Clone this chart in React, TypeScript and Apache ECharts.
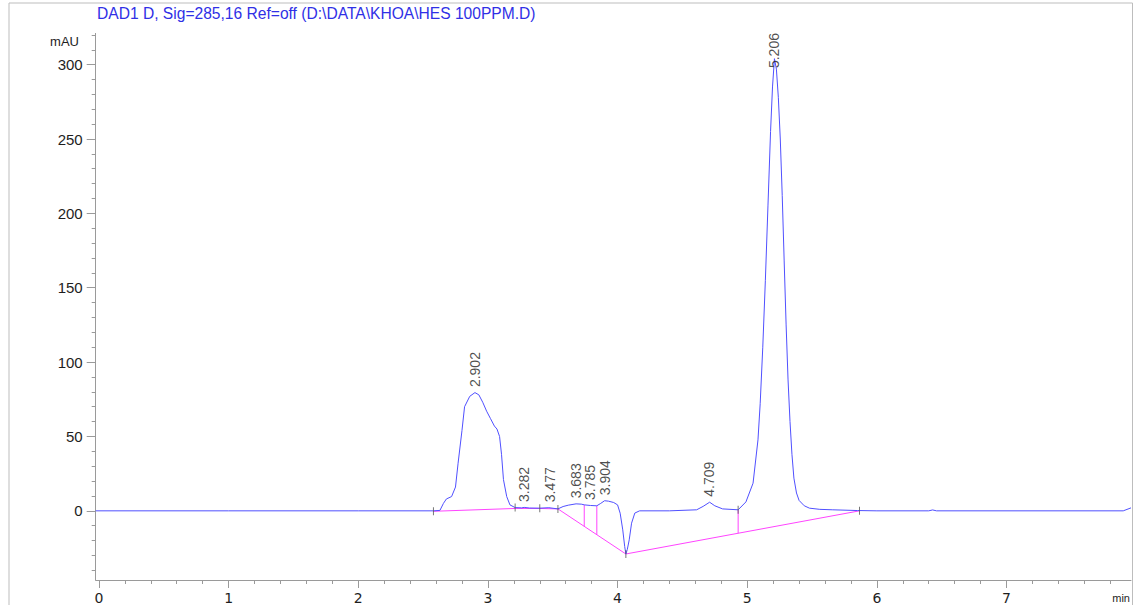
import React, { useEffect, useRef } from "react";
import * as echarts from "echarts";

// DAD chromatogram, signal 285 nm
const TITLE = "DAD1 D, Sig=285,16 Ref=off (D:\\DATA\\KHOA\\HES 100PPM.D)";

// Detector trace: retention time (min) and absorbance (mAU)
const signalTime = [
  -0.025, 1.0, 2.0, 2.58, 2.63, 2.657, 2.68, 2.72, 2.75, 2.77, 2.8, 2.82, 2.86, 2.9, 2.93, 2.96,
  2.99, 3.02, 3.05, 3.07, 3.09, 3.105, 3.12, 3.145, 3.17, 3.21, 3.26, 3.28, 3.32, 3.4, 3.47, 3.54,
  3.58, 3.62, 3.68, 3.72, 3.745, 3.79, 3.84, 3.87, 3.9, 3.93, 3.97, 4.0, 4.02, 4.04, 4.055, 4.064,
  4.075, 4.09, 4.108, 4.133, 4.17, 4.4, 4.61, 4.66, 4.71, 4.75, 4.81, 4.93, 4.99, 5.045, 5.083,
  5.1, 5.12, 5.14, 5.16, 5.18, 5.195, 5.21, 5.225, 5.24, 5.255, 5.27, 5.285, 5.3, 5.315, 5.33,
  5.345, 5.36, 5.38, 5.4, 5.44, 5.48, 5.56, 5.66, 5.85, 6.0, 6.4, 6.43, 6.46, 7.9, 7.96,
];
const signalMAU = [
  0, 0, 0, 0, 0.3, 5, 8, 9.6, 16, 32, 54, 70, 77, 79.5, 78, 73,
  67, 62, 57, 55, 50, 38, 21, 9.6, 4, 2.2, 2.0, 2.3, 1.9, 1.8, 2.1, 1.3,
  2.9, 3.8, 4.7, 4.5, 4.0, 3.6, 3.4, 5.0, 6.8, 6.5, 5.6, 4.0, -1.6, -12.8, -24, -29,
  -26, -19.5, -8.3, -1.5, 0, 0, 0.7, 3, 5.8, 3.4, 1.3, 0.7, 6, 18.6, 47.7,
  72, 110, 155, 205, 255, 285, 304, 297, 278, 250, 212, 168, 125, 88, 60,
  38, 22, 12, 7, 3.4, 1.8, 1, 0.7, 0.2, 0, 0, 0.6, 0, 0, 2,
];

// Integration baseline
const baselineTime = [2.58, 3.21, 3.4, 3.54, 4.064, 5.866];
const baselineMAU = [-0.3, 1.6, 1.6, 1.3, -29, 0];

// Peak split (drop) positions
const dropTime = [3.743, 3.84, 4.93];

// Integration event markers; the first, the valley and the last sit on the baseline
const markerTime = [2.58, 3.21, 3.4, 3.54, 4.064, 4.93, 5.866];
const markerOnBaseline = [true, false, false, false, true, false, true];

// Peak retention times and apex heights
const peakTime = [2.902, 3.282, 3.477, 3.683, 3.785, 3.904, 4.709, 5.206];
const peakMAU = [79.5, 2.3, 2.1, 4.7, 3.6, 6.8, 5.8, 304];

// Axis ranges and ticks
const X_MIN = -0.025;
const X_MAX = 7.96;
const Y_MIN = -46.5;
const Y_MAX = 321;
const xMajorTicks = [0, 1, 2, 3, 4, 5, 6, 7];
const yMajorTicks = [0, 50, 100, 150, 200, 250, 300];
const xMinorTicks = Array.from({ length: 40 }, (_, i) => Math.round(i * 2) / 10);
const yMinorTicks = Array.from({ length: 37 }, (_, i) => -40 + i * 10);

function interp(ts: number[], vs: number[], t: number): number {
  for (let i = 0; i < ts.length - 1; i++) {
    if (t >= ts[i] && t <= ts[i + 1]) {
      const f = (t - ts[i]) / (ts[i + 1] - ts[i]);
      return vs[i] + f * (vs[i + 1] - vs[i]);
    }
  }
  return vs[vs.length - 1];
}

const BLUE = "#5050ff";
const PINK = "#ff44ff";
const AXIS = "#9a9a9a";
const TEXT = "#1e1e1e";

export default function App() {
  const ref = useRef<HTMLDivElement>(null);

  useEffect(() => {
    if (!ref.current) return;
    const chart = echarts.init(ref.current, undefined, { renderer: "svg" });

    const signal = signalTime.map((t, i) => [t, signalMAU[i]]);
    const baseline = baselineTime.map((t, i) => [t, baselineMAU[i]]);

    const dropSeries = dropTime.map((t) => ({
      type: "line",
      data: [
        [t, interp(signalTime, signalMAU, t)],
        [t, interp(baselineTime, baselineMAU, t)],
      ],
      showSymbol: false,
      silent: true,
      lineStyle: { color: PINK, width: 1 },
      z: 3,
    }));

    const markers = markerTime.map((t, i) => [
      t,
      markerOnBaseline[i] ? interp(baselineTime, baselineMAU, t) : interp(signalTime, signalMAU, t),
    ]);

    // label anchors are held below the top edge so the rotated text stays inside the plot
    const labelCap = Y_MAX - 27;
    const peaks = peakTime.map((t, i) => ({
      value: [t, Math.min(peakMAU[i], labelCap)],
      name: t.toFixed(3),
    }));

    const option: any = {
      animation: false,
      backgroundColor: "#ffffff",
      grid: { left: 95.7, right: 3, top: 33.4, bottom: 24.8, containLabel: false },
      xAxis: [
        {
          type: "value",
          min: X_MIN,
          max: X_MAX,
          axisLine: { show: true, onZero: false, lineStyle: { color: AXIS, width: 1 } },
          axisTick: { show: true, customValues: xMajorTicks, length: 8, lineStyle: { color: AXIS } },
          axisLabel: {
            customValues: xMajorTicks,
            fontSize: 14,
            fontFamily: "DejaVu Sans",
            color: TEXT,
            margin: 11,
          },
          splitLine: { show: false },
        },
        {
          type: "value",
          position: "bottom",
          min: X_MIN,
          max: X_MAX,
          axisLine: { show: false, onZero: false },
          axisTick: { show: true, customValues: xMinorTicks, length: 4, lineStyle: { color: AXIS } },
          axisLabel: { show: false },
          splitLine: { show: false },
        },
      ],
      yAxis: [
        {
          type: "value",
          min: Y_MIN,
          max: Y_MAX,
          axisLine: { show: true, onZero: false, lineStyle: { color: AXIS, width: 1 } },
          axisTick: { show: true, customValues: yMajorTicks, length: 9, lineStyle: { color: AXIS } },
          axisLabel: {
            customValues: yMajorTicks,
            fontSize: 15,
            fontFamily: "Liberation Sans",
            color: TEXT,
            margin: 13,
          },
          splitLine: { show: false },
        },
        {
          type: "value",
          position: "left",
          min: Y_MIN,
          max: Y_MAX,
          axisLine: { show: false, onZero: false },
          axisTick: { show: true, customValues: yMinorTicks, length: 4, lineStyle: { color: AXIS } },
          axisLabel: { show: false },
          splitLine: { show: false },
        },
      ],
      series: [
        {
          type: "line",
          data: baseline,
          showSymbol: false,
          silent: true,
          lineStyle: { color: PINK, width: 1 },
          z: 2,
        },
        ...dropSeries,
        {
          type: "line",
          data: signal,
          showSymbol: false,
          silent: true,
          lineStyle: { color: BLUE, width: 1 },
          z: 4,
        },
        {
          type: "scatter",
          data: markers,
          symbol: "rect",
          symbolSize: [1, 8],
          itemStyle: { color: "#555555" },
          silent: true,
          z: 5,
        },
        {
          type: "scatter",
          data: peaks,
          symbolSize: 1,
          itemStyle: { color: "rgba(0,0,0,0)" },
          silent: true,
          z: 6,
          label: {
            show: true,
            position: "top",
            distance: 5,
            rotate: 90,
            align: "left",
            verticalAlign: "middle",
            formatter: (p: any) => p.name,
            fontSize: 14,
            fontFamily: "Liberation Sans",
            color: TEXT,
          },
        },
      ],
      graphic: [
        {
          type: "rect",
          shape: { x: 9, y: 3, width: 1123.5, height: 640 },
          style: { fill: "none", stroke: "#bdbdbd", lineWidth: 1 },
          silent: true,
        },
        {
          type: "text",
          x: 97,
          y: 13,
          style: {
            text: TITLE,
            fill: "#3030e6",
            font: "15.6px 'Liberation Sans'",
            textVerticalAlign: "middle",
          },
        },
        {
          type: "text",
          x: 79,
          y: 41,
          style: {
            text: "mAU",
            fill: TEXT,
            font: "13px 'Liberation Sans'",
            textAlign: "right",
            textVerticalAlign: "middle",
          },
        },
        {
          type: "text",
          x: 1130,
          y: 598,
          style: {
            text: "min",
            fill: TEXT,
            font: "11px 'Liberation Sans'",
            textAlign: "right",
            textVerticalAlign: "middle",
          },
        },
      ],
    };

    chart.setOption(option);
    return () => chart.dispose();
  }, []);

  return (
    <div
      ref={ref}
      style={{ position: "fixed", left: 0, top: 0, width: 1134, height: 605, background: "#fff" }}
    />
  );
}
